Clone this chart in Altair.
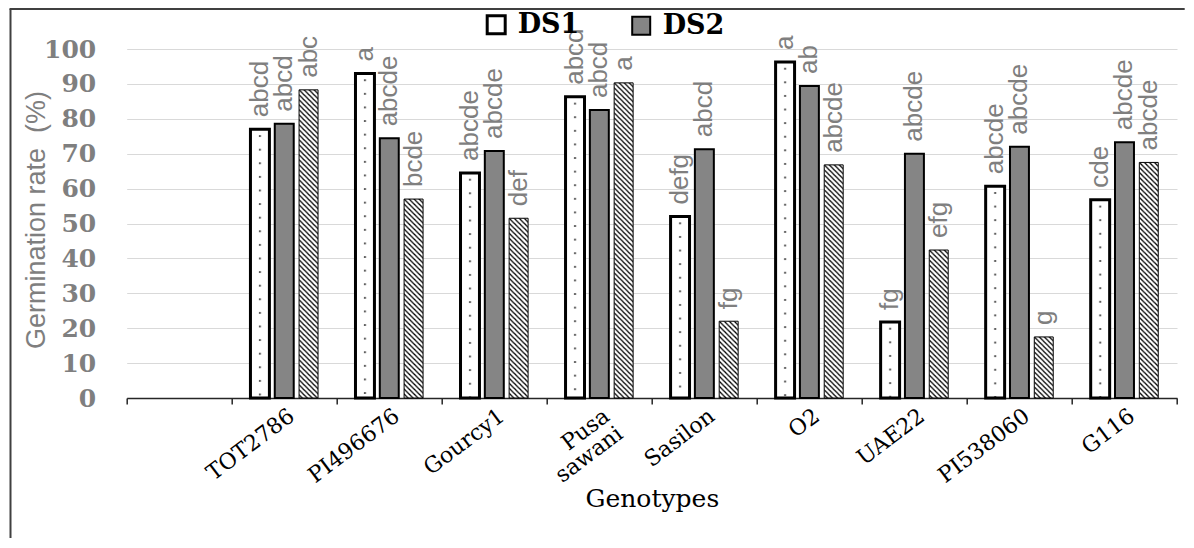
import base64
import altair as alt
import pandas as pd

# ---------------- data ----------------
categories = ["", "TOT2786", "PI496676", "Gourcy1", "Pusa sawani", "Sasilon",
              "O2", "UAE22", "PI538060", "G116"]
genotypes = categories[1:]
series_names = ["DS1", "DS2", "DS3"]

ds1 = [77.0, 93.0, 64.5, 86.3, 52.0, 96.3, 21.8, 60.7, 56.8]
ds2 = [78.6, 74.4, 70.8, 82.5, 71.3, 89.4, 70.0, 72.0, 73.3]
ds3 = [88.3, 57.0, 51.5, 90.3, 22.0, 66.8, 42.4, 17.5, 67.5]

lab1 = ["abcd", "a", "abcde", "abcd", "defg", "a", "fg", "abcde", "cde"]
lab2 = ["abcd", "abcde", "abcde", "abcd", "abcd", "ab", "abcde", "abcde", "abcde"]
lab3 = ["abc", "bcde", "def", "a", "fg", "abcde", "efg", "g", "abcde"]

y_ticks = list(range(0, 101, 10))

rows = []
for i, g in enumerate(genotypes):
    for s, vals, labs in zip(series_names, [ds1, ds2, ds3], [lab1, lab2, lab3]):
        rows.append({"genotype": g, "series": s, "value": vals[i], "label": labs[i]})
df = pd.DataFrame(rows)

# ---------------- pattern images ----------------
def svg_uri(svg):
    return "data:image/svg+xml;base64," + base64.b64encode(svg.encode("utf-8")).decode("ascii")

hatch_svg = (
    '<svg xmlns="http://www.w3.org/2000/svg" width="100%" height="100%">'
    '<defs><pattern id="h" width="5" height="5" patternUnits="userSpaceOnUse">'
    '<path d="M-1,-1L6,6M-1,4L1,6M4,-1L6,1" stroke="#000" stroke-width="1.3"/>'
    '</pattern></defs><rect width="100%" height="100%" fill="url(#h)"/></svg>'
)
dots_svg = (
    '<svg xmlns="http://www.w3.org/2000/svg" width="100%" height="100%">'
    '<defs><pattern id="d" width="60" height="13.6" patternUnits="userSpaceOnUse">'
    '<circle cx="9.5" cy="6.8" r="0.9" fill="#000"/>'
    '</pattern></defs><rect width="100%" height="100%" fill="url(#d)"/></svg>'
)
HATCH = svg_uri(hatch_svg)
DOTS = svg_uri(dots_svg)

# ---------------- encodings ----------------
W, H = 1050.3, 349

x_enc = alt.X(
    "genotype:N",
    scale=alt.Scale(domain=categories, paddingInner=0, paddingOuter=0),
    axis=alt.Axis(
        title="Genotypes",
        tickBand="extent",
        grid=False,
        domainColor="#262626",
        domainWidth=1.5,
        tickColor="#262626",
        tickWidth=1.5,
        tickSize=6,
        labelAngle=323,
        labelAlign="right",
        labelBaseline="top",
        labelFont="DejaVu Serif",
        labelFontSize=22,
        labelColor="#000000",
        labelPadding=1,
        labelOffset=1,
        labelLineHeight=22,
        labelOverlap=False,
        labelExpr="split(datum.label, ' ')",
        titleFont="DejaVu Serif",
        titleFontSize=25,
        titleFontWeight="normal",
        titleColor="#000000",
        titleY=100,
        titleBaseline="middle",
    ),
)
xoff_enc = alt.XOffset(
    "series:N",
    scale=alt.Scale(domain=series_names, paddingInner=0.22, paddingOuter=0.77),
)
y_enc = alt.Y(
    "value:Q",
    scale=alt.Scale(domain=[0, 100], nice=False, zero=True),
    axis=alt.Axis(
        values=y_ticks,
        grid=True,
        gridColor="#d9d9d9",
        gridWidth=1,
        domain=False,
        ticks=False,
        labelFont="DejaVu Serif",
        labelFontWeight="bold",
        labelFontSize=25,
        labelColor="#7f7f7f",
        labelPadding=31,
        title="Germination rate \u00a0(%)",
        titleFont="'Liberation Sans Narrow', 'Liberation Sans', sans-serif",
        titleFontSize=27,
        titleFontWeight="normal",
        titleColor="#7f7f7f",
        titleAngle=270,
        titleX=-90.7,
        titleY=H / 2 - 4,
        titleAlign="center",
        titleBaseline="middle",
    ),
)

base = alt.Chart(df).encode(x=x_enc, xOffset=xoff_enc, y=y_enc)

bars = base.mark_bar(stroke="#000000").encode(
    fill=alt.Fill(
        "series:N",
        scale=alt.Scale(domain=series_names, range=["#ffffff", "#858585", "#ffffff"]),
        legend=alt.Legend(
            values=["DS1", "DS2"],
            title=None,
            orient="none",
            legendX=356,
            legendY=-38,
            direction="horizontal",
            symbolType="square",
            symbolSize=324,
            symbolStrokeColor="#000000",
            symbolStrokeWidth=2,
            labelFont="DejaVu Serif",
            labelFontWeight="bold",
            labelFontSize=27,
            labelColor="#000000",
            labelOffset=8,
            columnPadding=48,
            padding=0,
        ),
    ),
    strokeWidth=alt.StrokeWidth(
        "series:N",
        scale=alt.Scale(domain=series_names, range=[3, 1, 1]),
        legend=None,
    ),
)

hatch = base.transform_filter(alt.datum.series == "DS3").mark_image(
    aspect=False, width={"band": 1}
).encode(y2=alt.datum(0), url=alt.value(HATCH))

dots = base.transform_filter(alt.datum.series == "DS1").mark_image(
    aspect=False, width={"band": 1}
).encode(y2=alt.datum(0), url=alt.value(DOTS))

labels = base.mark_text(
    angle=270,
    align="left",
    baseline="middle",
    dx=12,
    font="'Liberation Sans Narrow', 'Liberation Sans', sans-serif",
    fontSize=26,
    color="#7f7f7f",
).encode(text="label:N")

frame_df = pd.DataFrame({"k": [0]})
frame_left = alt.Chart(frame_df).mark_rule(color="#404040", strokeWidth=2).encode(
    x=alt.value(-116.2), y=alt.value(-40), y2=alt.value(489)
)
frame_top = alt.Chart(frame_df).mark_rule(color="#404040", strokeWidth=2).encode(
    x=alt.value(-117.2), x2=alt.value(1058), y=alt.value(-40)
)

chart = (
    alt.layer(bars, hatch, dots, labels, frame_left, frame_top)
    .properties(
        width=W,
        height=H,
        padding={"left": 118.7, "top": 41, "right": 8, "bottom": 140},
        autosize=alt.AutoSizeParams(type="none"),
    )
    .configure_view(stroke=None)
)

chart.save("out.html", embed_options={"renderer": "svg", "actions": False})
